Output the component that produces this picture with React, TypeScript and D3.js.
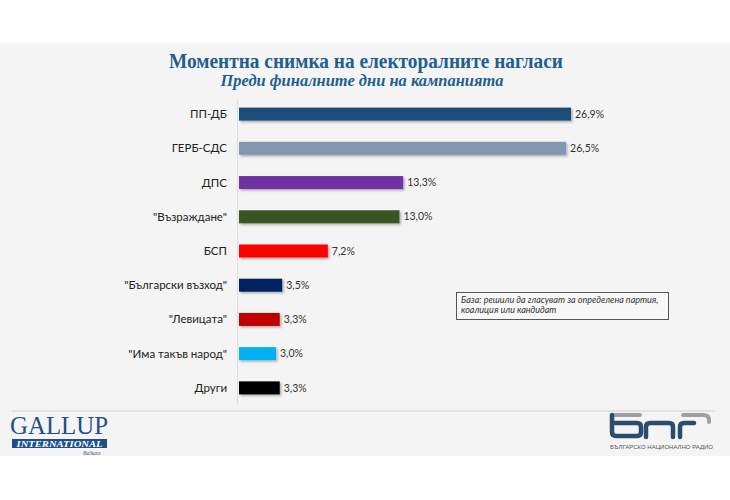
import React from 'react';
import * as d3 from 'd3';

// Партии и резултати (%)
const parties = [
  'ПП-ДБ',
  'ГЕРБ-СДС',
  'ДПС',
  '"Възраждане"',
  'БСП',
  '"Български възход"',
  '"Левицата"',
  '"Има такъв народ"',
  'Други',
];
const shares = [26.9, 26.5, 13.3, 13.0, 7.2, 3.5, 3.3, 3.0, 3.3];
const barColors = [
  '#1f4e79',
  '#8497b0',
  '#7030a0',
  '#375623',
  '#ff0000',
  '#002060',
  '#c00000',
  '#00b0f0',
  '#000000',
];

const title = 'Моментна снимка на електоралните нагласи';
const subtitle = 'Преди финалните дни на кампанията';
const noteLines = ['База: решили да гласуват за определена партия,', 'коалиция или кандидат'];

const width = 730;
const height = 500;

export default function App() {
  const x = d3.scaleLinear().domain([0, 26.9]).range([239, 571]);
  const y = d3
    .scaleBand<string>()
    .domain(parties)
    .range([97, 405])
    .paddingInner(0.62)
    .paddingOuter(0.31);

  const fmt = (v: number) => d3.format('.1f')(v).replace('.', ',') + '%';
  const rows = parties.map((p, i) => ({ name: p, value: shares[i], color: barColors[i] }));
  const font = 'Lato, "Open Sans", sans-serif';

  return (
    <svg
      width={width}
      height={height}
      style={{ position: 'absolute', left: 0, top: 0, background: '#ffffff' }}
    >
      <defs>
        <filter id="shadow" x="-5%" y="-30%" width="115%" height="180%">
          <feDropShadow dx="1.5" dy="1.5" stdDeviation="1" floodColor="#000" floodOpacity="0.3" />
        </filter>
        <linearGradient id="topfade" x1="0" x2="0" y1="0" y2="1">
          <stop offset="0" stopColor="#ffffff" />
          <stop offset="1" stopColor="#f2f3f4" />
        </linearGradient>
      </defs>

      {/* фон на слайда */}
      <rect x={0} y={40} width={width} height={6} fill="url(#topfade)" />
      <rect x={0} y={46} width={width} height={410} fill="#f4f4f4" />

      {/* заглавие */}
      <text
        x={366}
        y={68}
        textAnchor="middle"
        fontFamily='"Liberation Serif", "DejaVu Serif", serif'
        fontWeight="bold"
        fontSize={20}
        fill="#1f5f8f"
        textLength={394}
        lengthAdjust="spacingAndGlyphs"
      >
        {title}
      </text>
      <text
        x={362}
        y={86}
        textAnchor="middle"
        fontFamily='"Liberation Serif", "DejaVu Serif", serif'
        fontWeight="bold"
        fontStyle="italic"
        fontSize={17}
        fill="#1f5f8f"
        textLength={283}
        lengthAdjust="spacingAndGlyphs"
      >
        {subtitle}
      </text>

      {/* ос */}
      <line x1={237.5} x2={237.5} y1={100} y2={404} stroke="#dcdcdc" strokeWidth={1} />

      {rows.map((d) => {
        const cy = (y(d.name) as number) + y.bandwidth() / 2;
        return (
          <g key={d.name}>
            <rect
              x={x(0)}
              y={y(d.name)}
              width={x(d.value) - x(0)}
              height={y.bandwidth()}
              fill={d.color}
              filter="url(#shadow)"
            />
            <text
              x={227}
              y={cy}
              dy="0.35em"
              textAnchor="end"
              fontFamily={font}
              fontSize={11.5}
              fill="#222"
            >
              {d.name}
            </text>
            <text
              x={x(d.value) + 4}
              y={cy}
              dy="0.35em"
              fontFamily={font}
              fontSize={10.5}
              fill="#333"
            >
              {fmt(d.value)}
            </text>
          </g>
        );
      })}

      {/* бележка */}
      <rect x={456.5} y={292.5} width={212} height={27} fill="#f7f7f7" stroke="#555" strokeWidth={1} />
      {noteLines.map((t, i) => (
        <text
          key={t}
          x={461}
          y={303 + i * 10}
          fontFamily={font}
          fontStyle="italic"
          fontSize={9}
          fill="#333"
        >
          {t}
        </text>
      ))}

      {/* разделителна линия */}
      <line x1={12} x2={715} y1={411} y2={411} stroke="#dddddd" strokeWidth={1.5} />

      {/* Gallup лого */}
      <text
        x={10}
        y={434}
        fontFamily='"Liberation Serif", serif'
        fontSize={25}
        fill="#1f4e8c"
        textLength={98}
        lengthAdjust="spacingAndGlyphs"
      >
        GALLUP
      </text>
      <rect x={12} y={439} width={95} height={9} fill="#1f4e8c" />
      <text
        x={59.5}
        y={446.5}
        textAnchor="middle"
        fontFamily='"Liberation Serif", serif'
        fontWeight="bold"
        fontStyle="italic"
        fontSize={7.5}
        fill="#ffffff"
        textLength={86}
        lengthAdjust="spacingAndGlyphs"
      >
        INTERNATIONAL
      </text>
      <text
        x={83}
        y={455}
        fontFamily='"Liberation Serif", serif'
        fontStyle="italic"
        fontSize={5.5}
        fill="#4a5a70"
      >
        Balkans
      </text>

      {/* БНР лого */}
      <g fill="none" strokeLinecap="round" strokeLinejoin="round">
        <path d="M612,415 H640" stroke="#a0a0a0" strokeWidth={4} />
        <path
          d="M612,415 V432 Q612,436 616,436 H637 Q641,436 641,432 V427 Q641,423 637,423 H612"
          stroke="#2a4d6e"
          strokeWidth={4.5}
        />
        <path d="M646,437 V427 Q646,423 650,423 H669 Q673,423 673,427 V437" stroke="#2a4d6e" strokeWidth={4.5} />
        <path d="M680,437 V427 Q680,423 684,423 H694" stroke="#2a4d6e" strokeWidth={4.5} />
        <path d="M683,415 H703 Q709,415 709,420 V422" stroke="#a0a0a0" strokeWidth={4} />
      </g>
      <text
        x={610}
        y={449}
        fontFamily='"Liberation Sans", sans-serif'
        fontSize={6}
        fill="#555"
        textLength={103}
        lengthAdjust="spacingAndGlyphs"
      >
        БЪЛГАРСКО НАЦИОНАЛНО РАДИО
      </text>
    </svg>
  );
}
